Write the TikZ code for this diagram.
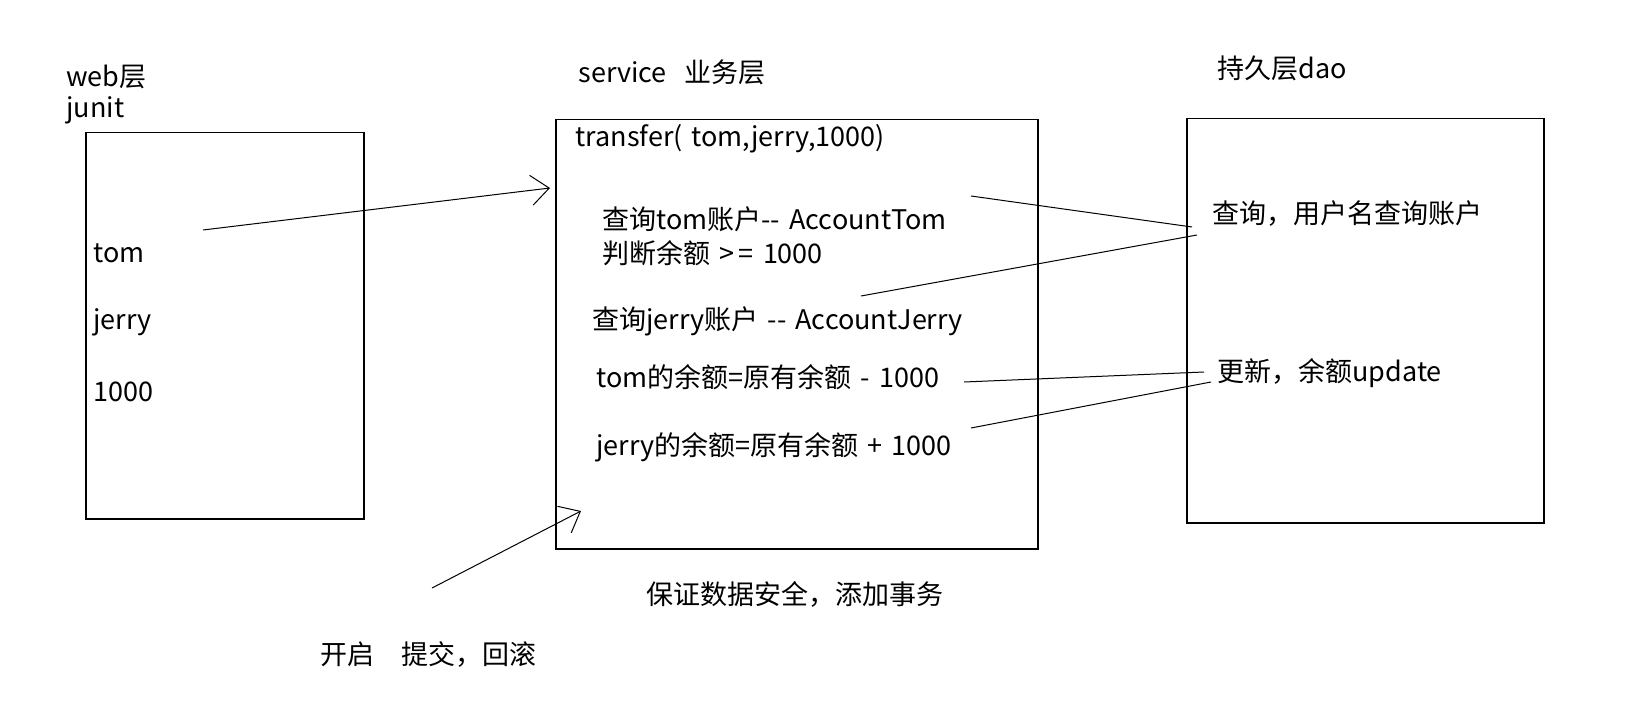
\documentclass[tikz,border=0pt]{standalone}
\usepackage{fontspec}
\setmainfont[WordSpace=1.5]{Noto Sans CJK SC}
\usetikzlibrary{arrows.meta}
\tikzset{
  layer/.style = {draw, line width=0.75pt, anchor=north west,
                  inner sep=0pt},
  txt/.style   = {anchor=west, inner sep=0pt,
                  font=\fontsize{13.5}{16}\selectfont},
  link/.style  = {draw, line width=0.5pt},
  call/.style  = {link, -{Straight Barb[length=9pt,width=15pt]}}
}

\begin{document}
\begin{tikzpicture}
  [
    x = 0.5pt,
    y = -0.5pt
  ]
  \useasboundingbox (0,0) rectangle (1642,716);

  % the three layers
  \node [layer, minimum width=139pt, minimum height=193pt] (web) at (85,132) {};
  \node [layer, minimum width=241pt, minimum height=214.5pt] (service) at (555,119) {};
  \node [layer, minimum width=178.5pt, minimum height=202pt] (dao) at (1186,118) {};

  \node [txt] (webT) at (66,77) {web层};
  \node [txt] (junitT) at (66,110) {junit};
  \node [txt] (serviceT) at (578,72) {service\ \ 业务层};
  \node [txt] (daoT) at (1217,68) {持久层dao};

  % web layer
  \node [txt] (tom) at (93,253) {tom};
  \node [txt] (jerry) at (93,322) {jerry};
  \node [txt] (money) at (93,392) {1000};

  % service layer
  \node [txt] (transfer) at (575,139) {transfer( tom,jerry,1000)};
  \node [txt] (findTom) at (602,219) {查询tom账户-{}- AccountTom};
  \node [txt] (check) at (602,253) {判断余额 >\,= 1000};
  \node [txt] (findJerry) at (592,321) {查询jerry账户 -{}- AccountJerry};
  \node [txt] (subTom) at (596,377) {tom的余额=原有余额 - 1000};
  \node [txt] (addJerry) at (596,447) {jerry的余额=原有余额 + 1000};
  \node [txt] (tx) at (646,594) {保证数据安全，添加事务};
  \node [txt] (commit) at (320,654) {开启\ \ \ 提交，回滚};

  % dao layer
  \node [txt] (query) at (1212,214) {查询，用户名查询账户};
  \node [txt] (update) at (1217,373) {更新，余额update};

  % loose ends
  \coordinate (c1) at (203,230);
  \coordinate (c2) at (550,188);
  \coordinate (c3) at (432,588);
  \coordinate (c4) at (581,511);
  \coordinate (q1) at (971,196);
  \coordinate (q2) at (861,296);
  \coordinate (u1) at (964,382);
  \coordinate (u2) at (971,428);

  \draw [call] (c1) -- (c2);
  \draw [call] (c3) -- (c4);
  \draw [link] (q1) -- ([shift={(-20,13)}]query.west);
  \draw [link] (q2) -- ([shift={(-15,21)}]query.west);
  \draw [link] (u1) -- ([shift={(-13,-1)}]update.west);
  \draw [link] (u2) -- ([shift={(-6,9)}]update.west);
\end{tikzpicture}
\end{document}
